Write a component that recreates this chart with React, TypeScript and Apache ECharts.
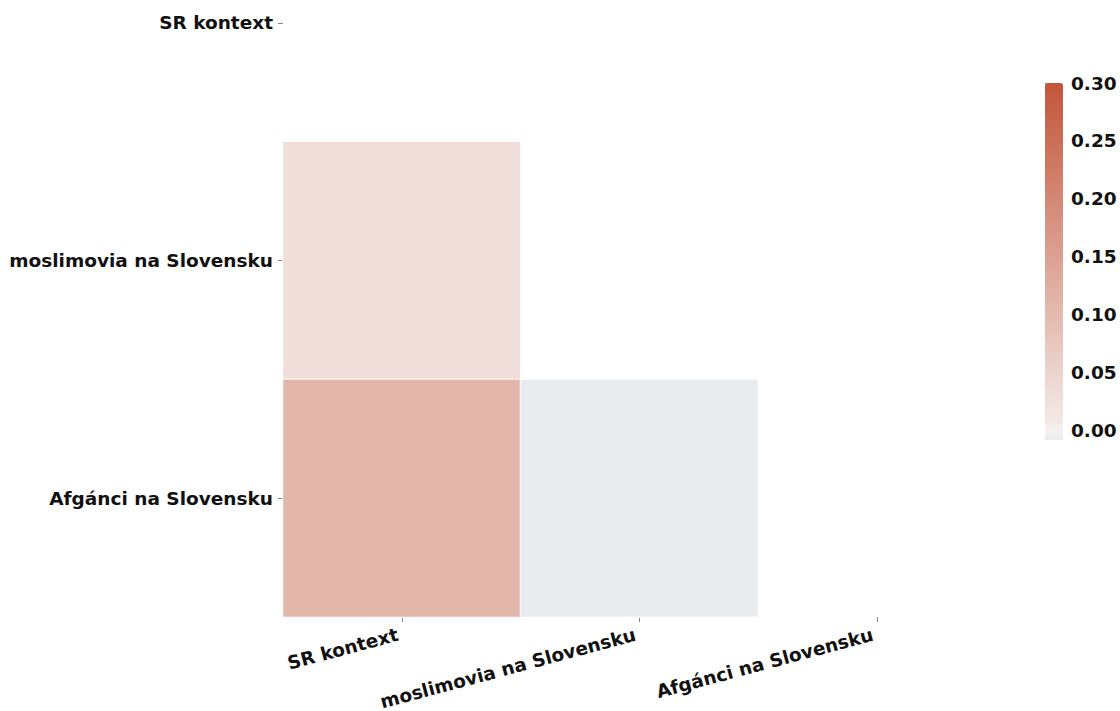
import React, { useEffect, useRef } from "react";
import * as echarts from "echarts";

const xCategories = ["SR kontext", "moslimovia na Slovensku", "Afgánci na Slovensku"];
const yCategories = ["SR kontext", "moslimovia na Slovensku", "Afgánci na Slovensku"];
// lower-triangle correlation cells: [col, row, value]
const cellMoslimoviaSR = [0, 1, 0.03];
const cellAfganciSR = [0, 2, 0.11];
const cellAfganciMoslimovia = [1, 2, -0.0078];
const colorbarTicks = [0, 0.05, 0.1, 0.15, 0.2, 0.25, 0.3];
const colorMin = -0.0078;
const colorMax = 0.3;

function hex(c: number[]) {
  return "#" + c.map((v) => Math.round(v).toString(16).padStart(2, "0")).join("");
}

function buildColors(): string[] {
  const n = 41;
  const out: string[] = [];
  const neg = [233, 236, 239];
  const mid = [242, 242, 242];
  const posLight = [244, 236, 234];
  const posFull = [195, 85, 58];
  for (let i = 0; i < n; i++) {
    const v = colorMin + (i * (colorMax - colorMin)) / (n - 1);
    if (v < -0.0005) out.push(hex(neg));
    else if (v < 0.0005) out.push(hex(mid));
    else {
      const t = Math.max(0, Math.min(1, (v - 0.0023) / (0.3 - 0.0023)));
      out.push(hex(posLight.map((a, k) => a + t * (posFull[k] - a))));
    }
  }
  return out;
}

const SHIFT = 96;

export default function App() {
  const ref = useRef<HTMLDivElement>(null);
  useEffect(() => {
    document.body.style.margin = "0";
    const chart = echarts.init(ref.current!, null, { renderer: "svg" });
    const font = "DejaVu Sans";
    chart.setOption({
      animation: false,
      backgroundColor: "#ffffff",
      grid: [
        { left: 283, top: 0, width: 712.5, height: 713, outerBoundsMode: "none", containLabel: false },
        { left: 1045, top: 83 + SHIFT, width: 18, height: 357, outerBoundsMode: "none", containLabel: false },
      ],
      xAxis: [
        {
          type: "category",
          gridIndex: 0,
          data: xCategories,
          axisLine: { show: false },
          axisTick: { show: true, alignWithLabel: true, length: 5, lineStyle: { color: "#888", width: 1 } },
          axisLabel: {
            rotate: 15,
            margin: 16,
            padding: [0, 4, 0, 0],
            fontFamily: font,
            fontWeight: "bold",
            fontSize: 18.5,
            color: "#111",
          },
          splitLine: { show: false },
        },
        { type: "value", gridIndex: 1, show: false },
      ],
      yAxis: [
        {
          type: "category",
          gridIndex: 0,
          inverse: true,
          data: yCategories,
          axisLine: { show: false },
          axisTick: { show: true, alignWithLabel: true, length: 5, lineStyle: { color: "#888", width: 1 } },
          axisLabel: {
            margin: 10,
            fontFamily: font,
            fontWeight: "bold",
            fontSize: 18.5,
            color: "#111",
          },
          splitLine: { show: false },
        },
        {
          type: "value",
          gridIndex: 1,
          position: "right",
          min: colorMin,
          max: colorMax,
          axisLine: { show: false },
          splitLine: { show: false },
          axisTick: { show: true, length: 4, customValues: colorbarTicks, lineStyle: { color: "#888" } },
          axisLabel: {
            customValues: colorbarTicks,
            margin: 8,
            formatter: (v: number) => v.toFixed(2),
            fontFamily: font,
            fontWeight: "bold",
            fontSize: 18.5,
            color: "#111",
          },
        },
      ],
      visualMap: {
        type: "continuous",
        min: colorMin,
        max: colorMax,
        calculable: false,
        hoverLink: false,
        seriesIndex: 0,
        orient: "vertical",
        left: 1045,
        top: 83 + SHIFT,
        itemWidth: 18,
        itemHeight: 357,
        padding: 0,
        text: ["", ""],
        showLabel: false,
        inRange: { color: buildColors() },
      },
      series: [
        {
          type: "heatmap",
          xAxisIndex: 0,
          yAxisIndex: 0,
          data: [cellMoslimoviaSR, cellAfganciSR, cellAfganciMoslimovia],
          itemStyle: { borderColor: "#ffffff", borderWidth: 1 },
          label: { show: false },
          emphasis: { disabled: true },
        },
      ],
    });
    return () => chart.dispose();
  }, []);
  return (
    <div style={{ width: 1120, height: 711, overflow: "hidden", position: "relative" }}>
      <div ref={ref} style={{ position: "absolute", left: 0, top: -SHIFT, width: 1120, height: 711 + SHIFT }} />
    </div>
  );
}
